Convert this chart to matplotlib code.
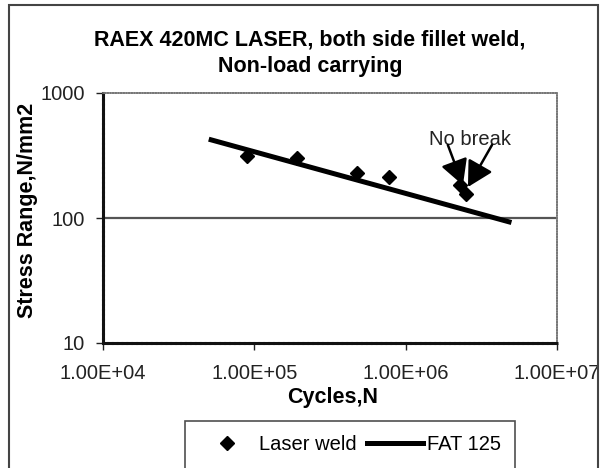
import numpy as np
import matplotlib
matplotlib.use("Agg")
import matplotlib.pyplot as plt
from matplotlib.patches import Rectangle
from matplotlib.lines import Line2D
from matplotlib.ticker import FixedLocator, FuncFormatter, NullLocator

plt.rcParams['font.family'] = ['Liberation Sans', 'DejaVu Sans']

# --- datos ---
laser_n = [9.0e4, 1.9e5, 4.8e5, 7.8e5, 2.3e6, 2.5e6]
laser_s = [313, 300, 230, 212, 185, 157]

fat_n = [5.0e4, 5.0e6]
fat_s = [427, 92]

x_ticks = [1e4, 1e5, 1e6, 1e7]
y_ticks = [10, 100, 1000]

# "No break" (texto + flechas)
nobreak_text = (2.67e6, 421)
arrow_tails = [(1.9e6, 384), (3.72e6, 384)]
arrow_tips = [(2.39e6, 183), (2.58e6, 177)]

W, H = 603, 468
fig = plt.figure(figsize=(W / 100, H / 100), dpi=100)
ax = fig.add_axes([103 / W, 1 - 343 / H, 454 / W, 250 / H])

ax.set_xscale('log')
ax.set_yscale('log')
ax.set_xlim(1e4, 1e7)
ax.set_ylim(10, 1000)

# grid 100 solida
ax.axhline(100, color='#555555', lw=1.6, zorder=1)

ax.plot(fat_n, fat_s, color='black', lw=3.6, solid_capstyle='butt', zorder=3)
ax.plot(laser_n, laser_s, 'D', color='black', ms=7, zorder=4)

for (tx, ty), (hx, hy) in zip(arrow_tails, arrow_tips):
    ax.annotate('', xy=(hx, hy), xytext=(tx, ty),
                arrowprops=dict(arrowstyle='-|>,head_length=1.1,head_width=0.6',
                                mutation_scale=14, lw=1.8, color='black',
                                shrinkA=0, shrinkB=0), zorder=5)
ax.text(*nobreak_text, 'No break', ha='center', va='center', fontsize=14.5, color='#222222')

# ejes estilo Excel
for side in ['top', 'right']:
    ax.spines[side].set_color('#777777')
    ax.spines[side].set_linestyle((0, (1, 0.6)))
    ax.spines[side].set_linewidth(1.2)
for side in ['left', 'bottom']:
    ax.spines[side].set_color('#111111')
    ax.spines[side].set_linewidth(2.2)
    ax.spines[side].set_linestyle((0, (1.2, 0.4)))

ax.xaxis.set_major_locator(FixedLocator(x_ticks))
ax.xaxis.set_major_formatter(FuncFormatter(lambda v, p: f"{v:.2E}"))
ax.xaxis.set_minor_locator(NullLocator())
ax.yaxis.set_major_locator(FixedLocator(y_ticks))
ax.yaxis.set_major_formatter(FuncFormatter(lambda v, p: f"{int(v)}"))
ax.yaxis.set_minor_locator(NullLocator())
ax.tick_params(axis='both', direction='out', length=5, width=1, labelsize=14.5, colors='#222222')
ax.tick_params(axis='x', pad=10)
ax.tick_params(axis='y', pad=8)

fig.text(310 / W, 1 - 40 / H, 'RAEX 420MC LASER, both side fillet weld,',
         ha='center', va='center', fontsize=15.5, fontweight='bold')
fig.text(310 / W, 1 - 67 / H, 'Non-load carrying',
         ha='center', va='center', fontsize=15.5, fontweight='bold')
fig.text(28 / W, 1 - 210 / H, 'Stress Range,N/mm2', rotation=90,
         ha='center', va='center', fontsize=15.5, fontweight='bold')
fig.text(333 / W, 1 - 398 / H, 'Cycles,N',
         ha='center', va='center', fontsize=15.5, fontweight='bold')

handles = [Line2D([], [], marker='D', color='black', ls='none', ms=7),
           Line2D([], [], color='black', lw=3.6)]
leg = fig.legend(handles, ['Laser weld', 'FAT 125'], ncol=2, loc='center',
                 bbox_to_anchor=(350 / W, 1 - 445 / H), fontsize=14.5,
                 frameon=True, fancybox=False, edgecolor='#222222',
                 handlelength=2.8, handletextpad=0.2, columnspacing=0.5,
                 borderpad=0.7, borderaxespad=0)
leg.get_frame().set_linewidth(1.2)

# marco exterior
fig.patches.append(Rectangle((9 / W, -0.02), 589 / W, 1 - 5 / H + 0.02,
                             transform=fig.transFigure, fill=False,
                             edgecolor='#444444', lw=1.5))

fig.savefig('out.png', dpi=100)
